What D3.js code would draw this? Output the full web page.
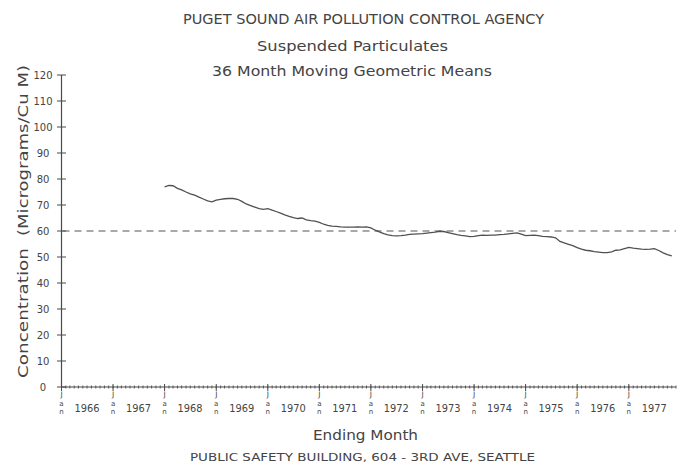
<!DOCTYPE html>
<html>
<head>
<meta charset="utf-8">
<script src="https://cdn.jsdelivr.net/npm/d3@7"></script>
<style>
  html, body { margin: 0; padding: 0; background: #fff; }
  svg { display: block; }
  text { font-family: "DejaVu Sans", "Liberation Sans", sans-serif; fill: #444; }
</style>
</head>
<body>
<svg id="chart" width="683" height="471"></svg>
<script>
// ---- data ----
const titleLines = ["PUGET SOUND AIR POLLUTION CONTROL AGENCY", "Suspended Particulates", "36 Month Moving Geometric Means"];
const xTitle = "Ending Month";
const footer = "PUBLIC SAFETY BUILDING, 604 - 3RD AVE, SEATTLE";
const yTitleA = "Concentration";
const yTitleB = "(Micrograms/Cu M)";
const monthLabel = ["J", "a", "n"];
const yearTicks = [1966, 1967, 1968, 1969, 1970, 1971, 1972, 1973, 1974, 1975, 1976, 1977];
const yTicks = [0, 10, 20, 30, 40, 50, 60, 70, 80, 90, 100, 110, 120];
const standard = 60;
const seriesStart = [1968, 0]; // January 1968, monthly thereafter
const seriesValues = [
  77.0, 77.5, 77.4, 76.4, 75.8, 75.0, 74.3, 73.8, 73.0, 72.3, 71.6, 71.2,
  71.9, 72.2, 72.4, 72.5, 72.5, 72.2, 71.4, 70.4, 69.8, 69.2, 68.6, 68.3,
  68.6, 68.0, 67.5, 66.9, 66.2, 65.6, 65.1, 64.8, 65.0, 64.3, 64.0, 63.8,
  63.3, 62.6, 62.2, 61.9, 61.8, 61.6, 61.5, 61.5, 61.5, 61.6, 61.5, 61.6,
  61.2, 60.3, 59.7, 59.0, 58.5, 58.2, 58.1, 58.2, 58.4, 58.7, 58.8, 58.9,
  59.0, 59.2, 59.4, 59.6, 59.9, 59.8, 59.4, 59.0, 58.6, 58.3, 58.1, 57.8,
  57.9, 58.2, 58.4, 58.3, 58.4, 58.4, 58.6, 58.7, 58.9, 59.1, 59.3, 58.8,
  58.2, 58.3, 58.4, 58.2, 57.9, 57.8, 57.7, 57.4, 56.0, 55.4, 54.9, 54.4,
  53.6, 53.0, 52.6, 52.4, 52.1, 51.9, 51.7, 51.7, 52.0, 52.6, 52.7, 53.2,
  53.7, 53.4, 53.2, 53.0, 52.9, 53.0, 53.2, 52.5, 51.6, 50.9, 50.4
];

// ---- drawing ----
const svg = d3.select("#chart");
const ink = "#4a4a4a";

const x = d3.scaleTime()
  .domain([new Date(1966, 0, 1), new Date(1977, 11, 1)])
  .range([61.5, 676]);
const y = d3.scaleLinear().domain([0, 120]).range([387, 75]);

const data = seriesValues.map((v, i) => ({ date: new Date(seriesStart[0], seriesStart[1] + i, 1), value: v }));

// titles
const titleSpecs = [
  { t: titleLines[0], x0: 183, x1: 544, base: 24, size: 14 },
  { t: titleLines[1], x0: 257, x1: 448, base: 51, size: 14 },
  { t: titleLines[2], x0: 212, x1: 492, base: 76, size: 14 }
];
titleSpecs.forEach(s => {
  svg.append("text")
    .attr("x", s.x0).attr("y", s.base)
    .attr("font-size", s.size)
    .attr("textLength", s.x1 - s.x0)
    .attr("lengthAdjust", "spacingAndGlyphs")
    .text(s.t);
});

// y axis
const yAxisG = svg.append("g");
yAxisG.append("line")
  .attr("x1", 61.5).attr("x2", 61.5)
  .attr("y1", y(0)).attr("y2", y(120))
  .attr("stroke", ink).attr("stroke-width", 1.2);
yAxisG.selectAll("line.tick").data(yTicks).enter().append("line")
  .attr("class", "tick")
  .attr("x1", 57).attr("x2", 66)
  .attr("y1", d => y(d)).attr("y2", d => y(d))
  .attr("stroke", ink).attr("stroke-width", 1);
yAxisG.selectAll("text").data(yTicks).enter().append("text")
  .attr("x", 43).attr("y", d => y(d) + 3.6)
  .attr("text-anchor", "middle")
  .attr("font-size", 10)
  .text(d => d);

// y titles (rotated)
[[yTitleA, 248, 378], [yTitleB, 65, 236]].forEach(([t, yTop, yBot]) => {
  svg.append("text")
    .attr("transform", `translate(28,${yBot}) rotate(-90)`)
    .attr("x", 0).attr("y", 0)
    .attr("font-size", 14)
    .attr("textLength", yBot - yTop)
    .attr("lengthAdjust", "spacingAndGlyphs")
    .text(t);
});

// x axis
const xAxisG = svg.append("g");
xAxisG.append("line")
  .attr("x1", x.range()[0]).attr("x2", x.range()[1])
  .attr("y1", y(0)).attr("y2", y(0))
  .attr("stroke", ink).attr("stroke-width", 1.2);
const monthTicks = d3.timeMonth.range(new Date(1966, 0, 1), new Date(1978, 0, 1));
xAxisG.selectAll("line.minor").data(monthTicks).enter().append("line")
  .attr("class", "minor")
  .attr("x1", d => x(d)).attr("x2", d => x(d))
  .attr("y1", y(0) - 1.5).attr("y2", y(0) + 1.5)
  .attr("stroke", ink).attr("stroke-width", 0.9);
const yearDates = yearTicks.map(yr => new Date(yr, 0, 1));
xAxisG.selectAll("line.major").data(yearDates).enter().append("line")
  .attr("class", "major")
  .attr("x1", d => x(d)).attr("x2", d => x(d))
  .attr("y1", y(0) - 3).attr("y2", y(0) + 4)
  .attr("stroke", ink).attr("stroke-width", 1);

// stacked month letters "J a n", year beside it
const letterSpecs = [[397, 7.5], [405.5, 7], [414, 7]];
yearDates.forEach(d => {
  monthLabel.forEach((ch, i) => {
    svg.append("text")
      .attr("x", x(d)).attr("y", letterSpecs[i][0])
      .attr("text-anchor", "middle")
      .attr("font-size", letterSpecs[i][1])
      .text(ch);
  });
  svg.append("text")
    .attr("x", x(d) + 13).attr("y", 412)
    .attr("font-size", 11)
    .attr("textLength", 25)
    .attr("lengthAdjust", "spacingAndGlyphs")
    .text(d.getFullYear());
});

// x title and footer
svg.append("text")
  .attr("x", 313).attr("y", 440)
  .attr("font-size", 14)
  .attr("textLength", 105)
  .attr("lengthAdjust", "spacingAndGlyphs")
  .text(xTitle);
svg.append("text")
  .attr("x", 190).attr("y", 461)
  .attr("font-size", 11)
  .attr("textLength", 345)
  .attr("lengthAdjust", "spacingAndGlyphs")
  .text(footer);

// standard dashed line
svg.append("line")
  .attr("x1", x.range()[0] + 1).attr("x2", x.range()[1])
  .attr("y1", y(standard)).attr("y2", y(standard))
  .attr("stroke", "#555").attr("stroke-width", 1.2)
  .attr("stroke-dasharray", "7,5");

// data line
const line = d3.line().x(d => x(d.date)).y(d => y(d.value)).curve(d3.curveLinear);
svg.append("path")
  .datum(data)
  .attr("d", line)
  .attr("fill", "none")
  .attr("stroke", "#505050")
  .attr("stroke-width", 1.3);
</script>
</body>
</html>
